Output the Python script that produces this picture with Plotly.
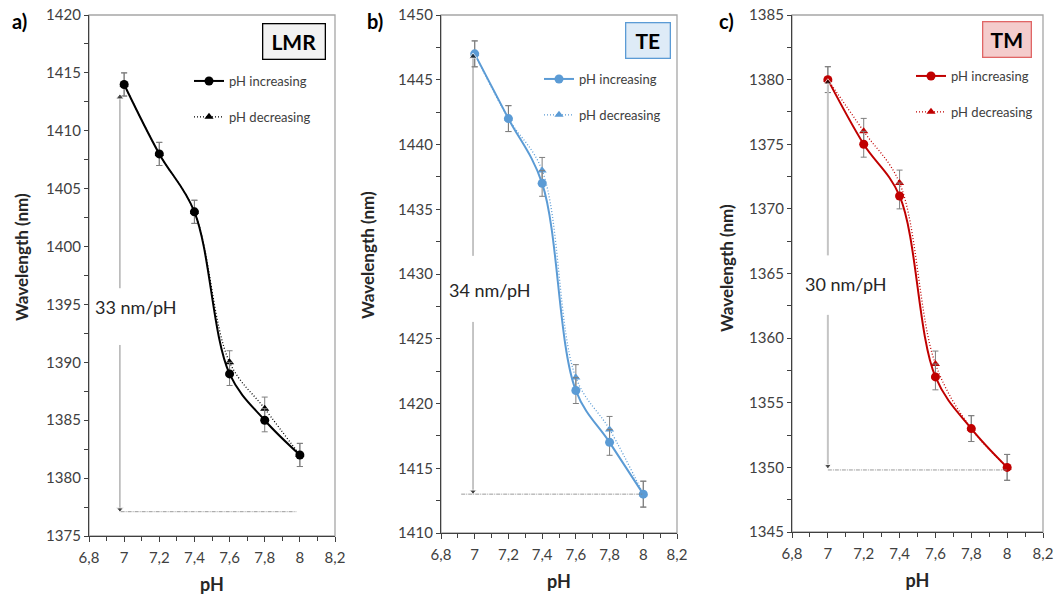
import plotly.graph_objects as go

# ---------------- data ----------------
ph = [7.0, 7.2, 7.4, 7.6, 7.8, 8.0]

lmr_increasing = [1414, 1408, 1403, 1389, 1385, 1382]
lmr_decreasing = [1414, 1408, 1403, 1390, 1386, 1382]
te_increasing = [1447, 1442, 1437, 1421, 1417, 1413]
te_decreasing = [1447, 1442, 1438, 1422, 1418, 1413]
tm_increasing = [1380, 1375, 1371, 1357, 1353, 1350]
tm_decreasing = [1380, 1376, 1372, 1358, 1353, 1350]
error = [1, 1, 1, 1, 1, 1]

panel_letters = ["a)", "b)", "c)"]
panel_names = ["LMR", "TE", "TM"]
sensitivity_labels = ["33 nm/pH", "34 nm/pH", "30 nm/pH"]
y_title = "Wavelength (nm)"
x_title = "pH"

# sensitivity arrow: x, top, bottom, gap (text) bounds, label y
arrow_x = [6.976, 6.99, 7.0]
arrow_top = [1412.9, 1446.8, 1379.8]
arrow_bottom = [1377.3, 1413.2, 1350.1]
arrow_gap_top = [1396.4, 1431.4, 1366.4]
arrow_gap_bottom = [1391.5, 1426.3, 1361.8]
label_y = [1394.8, 1428.8, 1364.2]
label_x = [7.07, 7.09, 7.1]
# dashed baseline
base_x0 = [6.98, 6.92, 7.0]
base_x1 = [7.98, 8.0, 8.0]
base_y = [1377.1, 1413.0, 1349.8]

y_ranges = [[1375, 1420], [1410, 1450], [1345, 1385]]
x_range = [6.8, 8.2]
x_ticks = [6.8, 7.0, 7.2, 7.4, 7.6, 7.8, 8.0, 8.2]
x_tick_labels = ["6,8", "7", "7,2", "7,4", "7,6", "7,8", "8", "8,2"]

# ---------------- styling ----------------
FONT = "Lato"
colors = ["#000000", "#5b9bd5", "#c00000"]
box_fill = ["#f2f2f2", "#deebf7", "#f4cccc"]
box_line = ["#000000", "#5b9bd5", "#e06666"]
arrow_line_color = ["#8c8c8c", "#8c8c8c", "#c4c4c4"]
arrow_line_width = [1, 1, 2]

W, H = 1057, 597
# plot-area pixel boxes (left, right, top, bottom)
boxes = [(89, 335, 15, 536), (441, 677, 15, 533), (792, 1043, 15, 532)]
legend_px = [(189, 66), (539, 64), (911, 61)]
panel_letter_px = [(19, 21), (375, 21), (726, 21)]
name_box_px = [(293.5, 41), (647.5, 40.5), (1006.5, 39.5)]
name_box_w = [59, 41, 45]
y_title_px = [(21, 257), (368, 255), (726, 268)]

data_in = [lmr_increasing, te_increasing, tm_increasing]
data_de = [lmr_decreasing, te_decreasing, tm_decreasing]

fig = go.Figure()
layout = dict(
    width=W, height=H,
    margin=dict(l=0, r=0, t=0, b=0, autoexpand=False),
    paper_bgcolor="white", plot_bgcolor="white",
    font=dict(family=FONT, size=14, color="#262626"),
    showlegend=True,
    annotations=[], shapes=[],
)

for i in range(3):
    n = "" if i == 0 else str(i + 1)
    xa, ya = "x" + n, "y" + n
    leg = "legend" + n
    l, r, t, b = boxes[i]
    c = colors[i]

    layout["xaxis" + n] = dict(
        domain=[l / W, r / W], anchor=ya, range=x_range, automargin=False,
        tickvals=x_ticks, ticktext=x_tick_labels,
        ticks="outside", ticklen=5, tickwidth=1, tickcolor="#404040",
        minor=dict(dtick=0.1, ticks="outside", ticklen=4, tickcolor="#404040"),
        showline=True, linecolor="#404040", linewidth=1.3,
        showgrid=False, zeroline=False, ticklabelstandoff=3,
        tickfont=dict(size=15, color="#404040"),
        title=dict(text="<b>" + x_title + "</b>", font=dict(size=18, color="#262626"), standoff=13),
    )
    layout["yaxis" + n] = dict(
        domain=[1 - b / H, 1 - t / H], anchor=xa, range=y_ranges[i], automargin=False,
        dtick=5, tick0=y_ranges[i][0],
        ticks="outside", ticklen=4, tickwidth=1, tickcolor="#404040",
        minor=dict(dtick=2.5, ticks="outside", ticklen=4, tickcolor="#404040"),
        showline=True, linecolor="#404040", linewidth=1.3,
        showgrid=False, zeroline=False,
        tickfont=dict(size=15, color="#404040"),
    )
    lx, ly = legend_px[i]
    layout[leg] = dict(
        x=lx / W, y=1 - ly / H, xanchor="left", yanchor="top",
        xref="paper", yref="paper",
        bgcolor="rgba(0,0,0,0)", borderwidth=0,
        font=dict(size=13, color="#404040", family=FONT),
        tracegroupgap=16, itemwidth=30,
    )

    # plot-area frame (top/right in light gray)
    layout["shapes"].append(dict(
        type="rect", xref=xa + " domain", yref=ya + " domain",
        x0=0, x1=1, y0=0, y1=1, line=dict(color="#a6a6a6", width=1.3), layer="below"))

    # decreasing series
    fig.add_trace(go.Scatter(
        x=ph, y=data_de[i], name="pH decreasing", mode="lines+markers",
        line=dict(color=c, width=1.3, dash="1px,2px", shape="spline", smoothing=1),
        marker=dict(symbol="triangle-up", size=8, color=c),
        error_y=dict(type="data", array=error, color="#7f7f7f", thickness=1, width=3),
        xaxis=xa, yaxis=ya, legend=leg, legendgroup="dec" + n, legendrank=2,
    ))
    # increasing series
    fig.add_trace(go.Scatter(
        x=ph, y=data_in[i], name="pH increasing", mode="lines+markers",
        line=dict(color=c, width=2, shape="spline", smoothing=1),
        marker=dict(symbol="circle", size=9, color=c),
        error_y=dict(type="data", array=error, color="#7f7f7f", thickness=1, width=3),
        xaxis=xa, yaxis=ya, legend=leg, legendgroup="inc" + n, legendrank=1,
    ))
    # sensitivity arrow line (with gap for the label)
    fig.add_trace(go.Scatter(
        x=[arrow_x[i], arrow_x[i], None, arrow_x[i], arrow_x[i]],
        y=[arrow_top[i], arrow_gap_top[i], None, arrow_gap_bottom[i], arrow_bottom[i]],
        mode="lines", line=dict(color=arrow_line_color[i], width=arrow_line_width[i]),
        showlegend=False, hoverinfo="skip", xaxis=xa, yaxis=ya,
    ))
    # arrow heads
    fig.add_trace(go.Scatter(
        x=[arrow_x[i], arrow_x[i]], y=[arrow_top[i], arrow_bottom[i]],
        mode="markers", marker=dict(symbol=["triangle-up", "triangle-down"], size=[7, 6], color="#000000"),
        showlegend=False, hoverinfo="skip", xaxis=xa, yaxis=ya,
    ))
    # baseline
    fig.add_trace(go.Scatter(
        x=[base_x0[i], base_x1[i]], y=[base_y[i], base_y[i]],
        mode="lines", line=dict(color="#7f7f7f", width=0.8, dash="4px,1px,1px,1px"),
        showlegend=False, hoverinfo="skip", xaxis=xa, yaxis=ya,
    ))

    # sensitivity label
    layout["annotations"].append(dict(
        x=label_x[i], y=label_y[i], xref=xa, yref=ya, text=sensitivity_labels[i],
        showarrow=False, xanchor="center", yanchor="middle",
        font=dict(size=18, color="#262626", family=FONT),
    ))
    # y-axis title
    tx, ty = y_title_px[i]
    layout["annotations"].append(dict(
        x=tx / W, y=1 - ty / H, xref="paper", yref="paper", text="<b>" + y_title + "</b>",
        showarrow=False, xanchor="center", yanchor="middle", textangle=-90,
        font=dict(size=17, color="#262626", family=FONT),
    ))
    # panel letter
    px_, py_ = panel_letter_px[i]
    layout["annotations"].append(dict(
        x=px_ / W, y=1 - py_ / H, xref="paper", yref="paper", text="<b>" + panel_letters[i] + "</b>",
        showarrow=False, xanchor="center", yanchor="middle",
        font=dict(size=20, color="#000000", family=FONT),
    ))
    # panel name box
    bx, by = name_box_px[i]
    layout["annotations"].append(dict(
        x=bx / W, y=1 - by / H, xref="paper", yref="paper", text="<b>" + panel_names[i] + "</b>",
        showarrow=False, xanchor="center", yanchor="middle",
        width=name_box_w[i], height=32, borderpad=1,
        bgcolor=box_fill[i], bordercolor=box_line[i], borderwidth=1.3,
        font=dict(size=21, color="#000000", family=FONT),
    ))

fig.update_layout(**layout)
fig.write_html("out.html", config={"displayModeBar": False})

# remove the default page margin so the figure fills the window exactly
with open("out.html", "r", encoding="utf-8") as f:
    html = f.read()
html = html.replace("<head>", "<head><style>html,body{margin:0;padding:0;overflow:hidden;}</style>", 1)
with open("out.html", "w", encoding="utf-8") as f:
    f.write(html)
